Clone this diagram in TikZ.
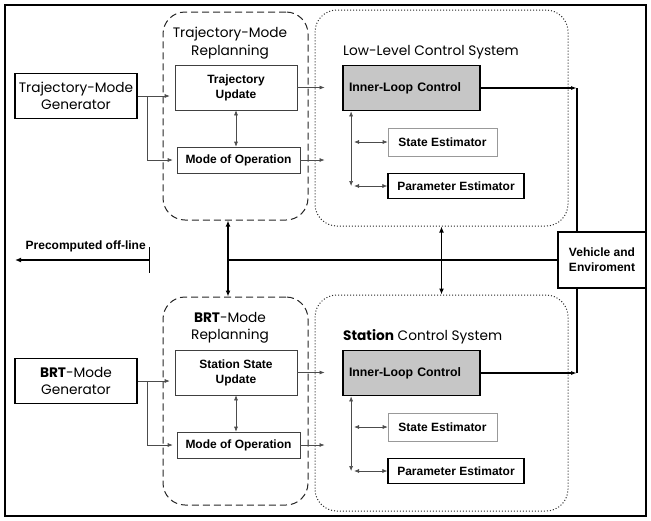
\documentclass[tikz,border=0pt]{standalone}
\usepackage{fontspec}
\setmainfont{Liberation Sans}
\newfontfamily\gothic{Poppins}
\usetikzlibrary{arrows.meta}

\begin{document}
\begin{tikzpicture}[
    x=1pt, y=-1pt,
    every node/.append style={inner sep=0pt, align=center},
    box/.style={draw=black!75, line width=0.6pt, font=\bfseries\fontsize{12}{15}\selectfont},
    thickbox/.style={box, draw=black, line width=1.8pt},
    title/.style={font=\gothic\fontsize{13.7}{17.5}\selectfont},
    region/.style={rounded corners=22pt, line width=1pt, draw=black!85},
    feed/.style={-{Latex[length=5pt,width=4pt]}, draw=black!70, line width=0.6pt},
    link/.style={{Latex[length=5pt,width=4pt]}-{Latex[length=5pt,width=4pt]}, draw=black!70, line width=0.6pt},
    main/.style={line width=1.3pt}
]
    \useasboundingbox (0,0) rectangle (651,520);
    \draw[line width=2.5pt] (5,5) rectangle (646,516);

    \node[thickbox, minimum width=88pt, minimum height=56pt] (veh) at (602,260) {Vehicle and\\Enviroment};

    \foreach \p/\oy/\gen/\upd/\sys/\side in {t/0/Trajectory-Mode/Trajectory/Low-Level/north,
                                           b/285/\textbf{BRT}-Mode/Station State/\textbf{Station}/south} {
        \node[thickbox, title, minimum width=122pt, minimum height=45pt] (\p gen) at (76,96+\oy) {\gen\\Generator};
        \node[region, dash pattern=on 7pt off 4pt, minimum width=145pt, minimum height=208pt] (\p rep) at (235.5,116+\oy) {};
        \node[title] (\p reptitle) at (230,43+\oy) {\gen\\Replanning};
        \node[box, minimum width=122pt, minimum height=45pt] (\p upd) at (236,87.5+\oy) {\upd\\Update};
        \node[box, minimum width=123pt, minimum height=26pt] (\p mode) at (238.5,160+\oy) {Mode of Operation};

        \node[region, dotted, minimum width=253pt, minimum height=216pt] (\p sys) at (441.5,118+\oy) {};
        \node[title, anchor=west] (\p systitle) at (343,52+\oy) {\sys\ Control System};
        \node[thickbox, fill=gray!45, minimum width=137pt, minimum height=45pt, text width=125pt, align=left,
              font=\bfseries\fontsize{12.3}{15}\selectfont] (\p ilc) at (411.5,88+\oy) {Inner-Loop Control};
        \node[box, draw=black!40, minimum width=109pt, minimum height=28pt] (\p se) at (442.5,142+\oy) {State Estimator};
        \node[box, draw=black, line width=1.2pt, minimum width=136pt, minimum height=25pt] (\p pe) at (456,186+\oy) {Parameter Estimator};

        \draw[feed] (\p gen.east) -- ([xshift=-5pt]\p gen.east -| \p upd.west);
        \draw[feed] ([xshift=9pt]\p gen.east) |- ([xshift=-4pt]\p mode.west);
        \draw[link] (\p upd.south) -- (\p upd.south |- \p mode.north);
        \draw[feed] (\p upd.east) -- ([xshift=10pt]\p upd.east -| \p sys.west);
        \draw[feed] (\p mode.east) -- ([xshift=10pt]\p mode.east -| \p sys.west);

        \coordinate (\p v) at ([xshift=9pt]\p ilc.south west);
        \draw[link] (\p v) -- (\p v |- \p pe.west);
        \draw[link] ([xshift=3pt]\p v |- \p se.west) -- (\p se.west);
        \draw[link] ([xshift=3pt]\p v |- \p pe.west) -- (\p pe.west);

        \coordinate (\p c) at (577,88+\oy);
        \draw[main, -{Latex[length=6pt,width=4pt]}] (\p ilc.east) -- (\p c);
        \draw[main] (\p c) -- (\p c |- veh.\side);
    }

    \coordinate (mid) at (228,260);
    \draw[main, {Latex[length=6pt,width=5pt]}-{Latex[length=6pt,width=5pt]}] (mid |- trep.south) -- (mid |- brep.north);
    \draw[main] (mid) -- (veh.west);
    \draw[main, {Latex[length=6pt,width=5pt]}-{Latex[length=6pt,width=5pt]}] (tsys.south) -- (bsys.north);

    \coordinate (offa) at (150,260);
    \coordinate (offb) at (15,260);
    \draw[main, {Bar[width=26pt]}-{Latex[length=6pt,width=5pt]}] (offa) -- (offb);
    \node[box, draw=none, anchor=south east] (pre) at (146,252) {Precomputed off-line};
\end{tikzpicture}
\end{document}
